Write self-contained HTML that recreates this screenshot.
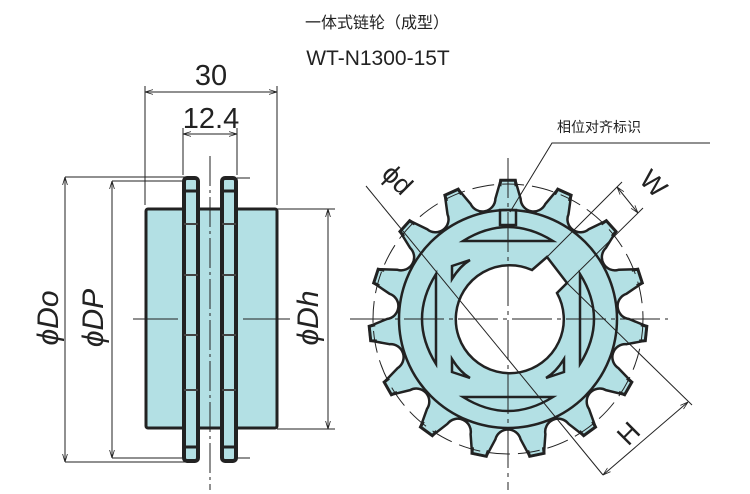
<!DOCTYPE html>
<html><head><meta charset="utf-8"><style>
html,body{margin:0;padding:0;background:#fff;}
svg{display:block;}
</style></head><body>
<svg id="s" width="750" height="494" viewBox="0 0 750 494" xmlns="http://www.w3.org/2000/svg" font-family="'Liberation Sans','Noto Sans CJK SC',sans-serif">
<defs>
<marker id="a" viewBox="0 0 10 10" refX="10" refY="5" markerWidth="8" markerHeight="8" orient="auto-start-reverse"><path d="M0,2 L10,5 L0,8" fill="none" stroke="#222" stroke-width="1"/></marker>
</defs>
<text x="377" y="28" font-size="16" text-anchor="middle" fill="#222">一体式链轮（成型）</text>
<text x="378" y="65" font-size="21" text-anchor="middle" fill="#222">WT-N1300-15T</text>

<!-- side view -->
<g stroke="#222" fill="none" stroke-width="1">
<line x1="145" y1="205" x2="145" y2="86"/><line x1="277" y1="205" x2="277" y2="86"/>
<line x1="145" y1="92" x2="277" y2="92" marker-start="url(#a)" marker-end="url(#a)"/>
<line x1="183" y1="175" x2="183" y2="128"/><line x1="237" y1="175" x2="237" y2="128"/>
<line x1="183" y1="134" x2="237" y2="134" marker-start="url(#a)" marker-end="url(#a)"/>
<line x1="65" y1="177" x2="190" y2="177"/><line x1="65" y1="462" x2="190" y2="462"/>
<line x1="112" y1="181" x2="190" y2="181"/><line x1="112" y1="458" x2="190" y2="458"/>
<line x1="65" y1="177" x2="65" y2="462" marker-start="url(#a)" marker-end="url(#a)"/>
<line x1="112" y1="181" x2="112" y2="458" marker-start="url(#a)" marker-end="url(#a)"/>
<line x1="277" y1="209" x2="335" y2="209"/><line x1="277" y1="429" x2="335" y2="429"/>
<line x1="328" y1="209" x2="328" y2="429" marker-start="url(#a)" marker-end="url(#a)"/>
<line x1="237" y1="178" x2="250" y2="178"/><line x1="237" y1="458" x2="250" y2="458"/>
</g>
<text x="211" y="85" font-size="29" text-anchor="middle" fill="#222">30</text>
<text x="211" y="128" font-size="29" text-anchor="middle" fill="#222">12.4</text>
<g font-size="30" fill="#222" font-style="italic" text-anchor="middle">
<text transform="translate(58,318) rotate(-90)">ϕDo</text>
<text transform="translate(103,318) rotate(-90)">ϕDP</text>
<text transform="translate(318,318) rotate(-90)">ϕDh</text>
</g>
<rect x="146" y="209" width="131" height="219" fill="#b3e0e4" stroke="#222" stroke-width="3" rx="2"/>
<rect x="184" y="178" width="14" height="283" fill="#b3e0e4" stroke="#222" stroke-width="4" rx="3"/>
<rect x="222" y="178" width="14" height="283" fill="#b3e0e4" stroke="#222" stroke-width="4" rx="3"/>
<g stroke="#222" stroke-width="3">
<line x1="184" y1="191" x2="198" y2="191"/><line x1="222" y1="191" x2="236" y2="191"/>
<line x1="184" y1="447" x2="198" y2="447"/><line x1="222" y1="447" x2="236" y2="447"/>
</g>
<g stroke="#444" stroke-width="2">
<line x1="184" y1="224" x2="198" y2="224"/><line x1="222" y1="224" x2="236" y2="224"/>
<line x1="184" y1="275" x2="198" y2="275"/><line x1="222" y1="275" x2="236" y2="275"/>
<line x1="184" y1="335" x2="198" y2="335"/><line x1="222" y1="335" x2="236" y2="335"/>
<line x1="184" y1="390" x2="198" y2="390"/><line x1="222" y1="390" x2="236" y2="390"/>
</g>
<g stroke="#222" stroke-width="1">
<line x1="133" y1="319" x2="178" y2="319"/><line x1="243" y1="319" x2="290" y2="319"/>
<line x1="210" y1="156" x2="210" y2="490" stroke-dasharray="30 4 3 4"/>
</g>

<!-- gear -->
<g id="gear"></g>
<g stroke="#222" fill="none" stroke-width="1">
<circle cx="508" cy="319" r="135" stroke-dasharray="22 8"/>
<line x1="350" y1="319" x2="668" y2="319" stroke-dasharray="40 5 4 5"/>
<line x1="508" y1="158" x2="508" y2="490" stroke-dasharray="40 5 4 5"/>
<line x1="366" y1="186" x2="603" y2="475"/>
<line x1="547" y1="257" x2="622" y2="182"/>
<line x1="567" y1="283" x2="643" y2="208"/>
<line x1="617" y1="187" x2="638" y2="213" marker-start="url(#a)" marker-end="url(#a)"/>
<line x1="567" y1="283" x2="692" y2="405"/>
<line x1="603" y1="475" x2="688" y2="402" marker-start="url(#a)" marker-end="url(#a)"/>
<polyline points="710,143 552,143 510,212"/>
</g>
<text x="557" y="132" font-size="14" fill="#222">相位对齐标识</text>
<text transform="translate(391,186) rotate(45)" font-size="27" fill="#222" text-anchor="middle">ϕd</text>
<text transform="translate(647,190) rotate(45)" font-size="27" fill="#222" text-anchor="middle">W</text>
<text transform="translate(635,440) rotate(-45)" font-size="27" fill="#222" text-anchor="middle">H</text>
</svg>
<script>
(function(){
var cx=508,cy=319,d="",N=15;
function p(r,a){a=a*Math.PI/180;return (cx+r*Math.cos(a)).toFixed(1)+","+(cy+r*Math.sin(a)).toFixed(1);}
for(var i=0;i<N;i++){var t=-90+i*24;
 if(i==0)d+="M"+p(121,t-6);
 d+=" L"+p(139,t-3)+" L"+p(139,t+3)+" L"+p(121,t+6)+" A13,13 0 0 0 "+p(121,t+18);}
d+="Z";
var ns="http://www.w3.org/2000/svg",g=document.getElementById("gear");
function el(n,at){var e=document.createElementNS(ns,n);for(var k in at)e.setAttribute(k,at[k]);g.appendChild(e);return e;}
el("path",{d:d,fill:"#b3e0e4",stroke:"#222","stroke-width":2.5,"stroke-linejoin":"round"});
for(var i=0;i<N;i++){var t=-90+i*24;
 el("path",{d:"M"+p(133,t-3.5)+" L"+p(139,t-3)+" L"+p(139,t+3)+" L"+p(133,t+3.5),fill:"none",stroke:"#222","stroke-width":3});}
el("circle",{cx:cx,cy:cy,r:109,fill:"none",stroke:"#222","stroke-width":2.5});
el("path",{d:"M532,270 L547,257 L567,283 L557,293 A54,54 0 1 1 532,270 Z",fill:"#fff",stroke:"#222","stroke-width":2.5});
var sl={fill:"#b3e0e4",stroke:"#222","stroke-width":2.5};
el("path",Object.assign({d:"M463,241 Q508,213 553,241 Z"},sl));
el("path",Object.assign({d:"M463,397 Q508,425 553,397 Z"},sl));
el("path",Object.assign({d:"M436,274 Q408,319 436,364 Z"},sl));
el("path",Object.assign({d:"M580,274 Q608,319 580,364 Z"},sl));
el("path",Object.assign({d:"M452,279 L452,266 L470,260 Q460,266 452,279 Z"},sl));
el("path",Object.assign({d:"M452,359 L452,372 L470,378 Q460,372 452,359 Z"},sl));
el("path",Object.assign({d:"M564,359 L564,372 L546,378 Q556,372 564,359 Z"},sl));
el("rect",{x:500,y:210,width:16,height:15,fill:"none",stroke:"#222","stroke-width":2.5});
})();
</script>
</body></html>
